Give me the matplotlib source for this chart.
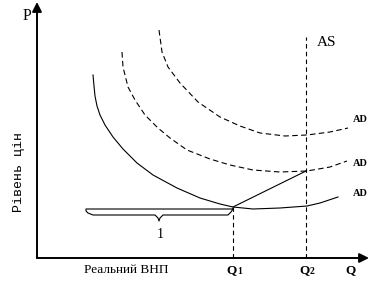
import matplotlib
matplotlib.use("Agg")
import matplotlib.pyplot as plt

# units: Q to the right, P upward
ad1_q = [56, 57, 58, 60, 63, 68, 76, 86, 100, 116, 140, 163, 183, 196, 216, 243, 270, 283, 301]
ad1_p = [183, 172, 162, 152, 143, 133, 121, 109, 95, 83, 70, 60, 54, 51, 49, 50, 52, 55, 61]

ad2_q = [85, 86, 91, 98, 108, 121, 133, 150, 173, 193, 216, 243, 270, 293, 310]
ad2_p = [206, 191, 171, 158, 143, 130, 120, 108, 99, 93, 88, 86, 87, 91, 97]

ad3_q = [122, 125, 131, 143, 161, 183, 203, 223, 248, 270, 293, 311]
ad3_p = [228, 206, 191, 175, 156, 141, 132, 125, 122, 123, 126, 130]

q1, q2 = 196, 269
p_q1, p_q2 = 51, 87
as_top = 221

brace_q = [196, 49, 49, 51, 56, 118, 121, 122, 123, 126, 191, 194, 196]
brace_p = [49, 49, 47, 45, 43, 43, 40, 37, 40, 43, 43, 46, 49]

ad_label_p = [138, 95, 64]
q_ticks = [q1, q2]
q_subs = ["1", "2"]

serif = "Liberation Serif"

fig = plt.figure(figsize=(3.8, 2.94), dpi=100)
ax = fig.add_axes([0, 0, 1, 1])
ax.set_xlim(-37, 343)
ax.set_ylim(-36, 258)
ax.axis("off")

# axes with arrows
ax.annotate("", xy=(0, 256), xytext=(0, 0),
            arrowprops=dict(arrowstyle="-|>", color="k", lw=1.4, mutation_scale=14, shrinkA=0, shrinkB=0))
ax.annotate("", xy=(332, 0), xytext=(0, 0),
            arrowprops=dict(arrowstyle="-|>", color="k", lw=1.4, mutation_scale=14, shrinkA=0, shrinkB=0))

ax.plot(ad1_q, ad1_p, color="k", lw=0.8)
ax.plot(ad2_q, ad2_p, color="k", lw=0.8, dashes=(5, 3))
ax.plot(ad3_q, ad3_p, color="k", lw=0.8, dashes=(5, 3))

ax.plot([q1, q2], [p_q1, p_q2], color="k", lw=0.8)
ax.plot([q1, q1], [0, p_q1], color="k", lw=0.8, dashes=(4, 3))
ax.plot([q2, q2], [0, as_top], color="k", lw=0.8, dashes=(4, 3))

ax.plot(brace_q, brace_p, color="k", lw=0.8)

ax.text(-10, 242, "P", fontsize=11.5, family=serif, ha="center", va="center")
ax.text(280, 216, "AS", fontsize=11, family=serif, ha="left", va="center")
for p in ad_label_p:
    ax.text(316, p, "AD", fontsize=7.5, family=serif, weight="bold", ha="left", va="center")

for q, s in zip(q_ticks, q_subs):
    ax.text(q + 4, -12, "Q", fontsize=9.5, family=serif, weight="bold", ha="right", va="center")
    ax.text(q + 4, -14, s, fontsize=7, family=serif, weight="bold", ha="left", va="center")
ax.text(313, -12, "Q", fontsize=9.5, family=serif, weight="bold", ha="center", va="center")
ax.text(89, -12, "Реальний ВНП", fontsize=9.5, family=serif, ha="center", va="center")
ax.text(123, 23, "1", fontsize=10, family=serif, ha="center", va="center")
ax.text(-18, 86, "Рівень цін", fontsize=9.5, family="Liberation Mono", rotation=90, ha="center", va="center")

fig.savefig("out.png", dpi=100)
